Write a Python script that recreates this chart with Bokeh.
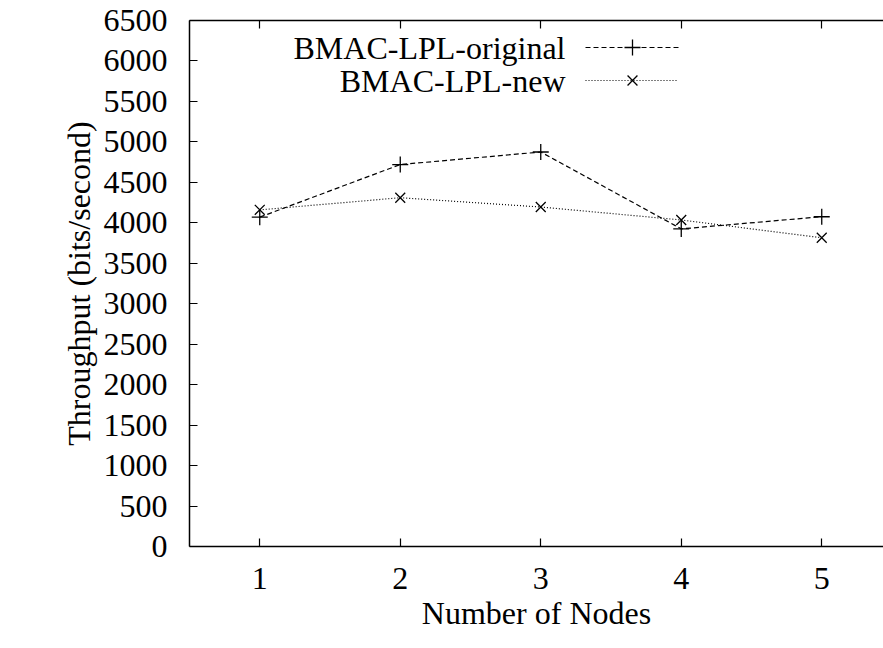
from bokeh.plotting import figure
from bokeh.models import Range1d, FixedTicker, LinearAxis, Label
from bokeh.embed import file_html
from bokeh.resources import INLINE

# ---- data ----
nodes = [1, 2, 3, 4, 5]
original = [4070, 4720, 4875, 3925, 4075]
new = [4160, 4310, 4195, 4035, 3815]
y_ticks = list(range(0, 6501, 500))
x_ticks = [1, 2, 3, 4, 5]
series_labels = ["BMAC-LPL-original", "BMAC-LPL-new"]
x_title = "Number of Nodes"
y_title = "Throughput (bits/second)"

FONT = "Liberation Serif"
FS = "32px"

# ---- geometry ----
OFF = 0                   # page offset of canvas
FL, FT = 189, 20          # frame offset inside canvas
W, H = 883, 648
FW, FH = W - FL, 526
X0 = 0.5
X1 = X0 + FW / 140.5
Y0, Y1 = 0, 6500

def dx(px):  # page px -> data x
    return X0 + (px - OFF - FL) / FW * (X1 - X0)

def dy(py):  # page py -> data y
    return Y1 - (py - OFF - FT) / FH * (Y1 - Y0)

p = figure(width=W, height=H, frame_width=FW, frame_height=FH,
           x_range=Range1d(X0, X1), y_range=Range1d(Y0, Y1),
           output_backend="svg", toolbar_location=None,
           min_border_left=FL, min_border_top=FT,
           min_border_right=W - FL - FW, min_border_bottom=H - FT - FH)
p.outline_line_color = None
p.grid.visible = False
p.background_fill_color = "white"
p.border_fill_color = "white"

for ax in (p.xaxis[0], p.yaxis[0]):
    ax.major_label_text_font = FONT
    ax.major_label_text_font_size = FS
    ax.major_label_text_color = "black"
    ax.axis_label_text_font = FONT
    ax.axis_label_text_font_size = FS
    ax.axis_label_text_font_style = "normal"
    ax.axis_label_text_color = "black"
    ax.axis_line_color = "black"
    ax.axis_line_width = 1.5
    ax.major_tick_line_color = "black"
    ax.major_tick_line_width = 1.2
    ax.major_tick_in = 8
    ax.major_tick_out = 0
    ax.minor_tick_line_color = None

p.xaxis[0].ticker = FixedTicker(ticks=x_ticks)
p.yaxis[0].ticker = FixedTicker(ticks=y_ticks)
p.xaxis[0].axis_label = x_title
p.yaxis[0].axis_label = y_title
p.xaxis[0].major_label_standoff = 21
p.xaxis[0].axis_label_standoff = 3
p.yaxis[0].major_label_standoff = 22
p.yaxis[0].axis_label_standoff = 4

top = LinearAxis(ticker=FixedTicker(ticks=x_ticks),
                 major_label_overrides={t: "" for t in x_ticks},
                 axis_line_color="black", axis_line_width=1.5,
                 major_tick_in=8, major_tick_out=0, major_tick_line_width=1.2,
                 minor_tick_line_color=None)
p.add_layout(top, "above")

# series
p.line(nodes, original, line_color="black", line_width=1.2, line_dash="5 3")
p.scatter(nodes, original, marker="cross", size=16, line_color="black", line_width=1.3)
p.line(nodes, new, line_color="black", line_width=1.2, line_dash="1 2")
p.scatter(nodes, new, marker="x", size=14, line_color="black", line_width=1.3)

# legend (gnuplot style: label left, sample right)
rows = [47, 80]
dashes = ["5 3", "1 2"]
markers = ["cross", "x"]
msizes = [16, 14]
for lab, ry, dsh, mk, ms in zip(series_labels, rows, dashes, markers, msizes):
    p.add_layout(Label(x=dx(565), y=dy(ry), text=lab, text_align="right",
                       text_baseline="middle", text_font=FONT,
                       text_font_size=FS, text_color="black"))
    p.line([dx(585), dx(678)], [dy(ry), dy(ry)], line_color="black",
           line_width=1.2, line_dash=dsh)
    p.scatter([dx(632)], [dy(ry)], marker=mk, size=ms, line_color="black",
              line_width=1.3)

open("out.html", "w").write(file_html(p, INLINE))
